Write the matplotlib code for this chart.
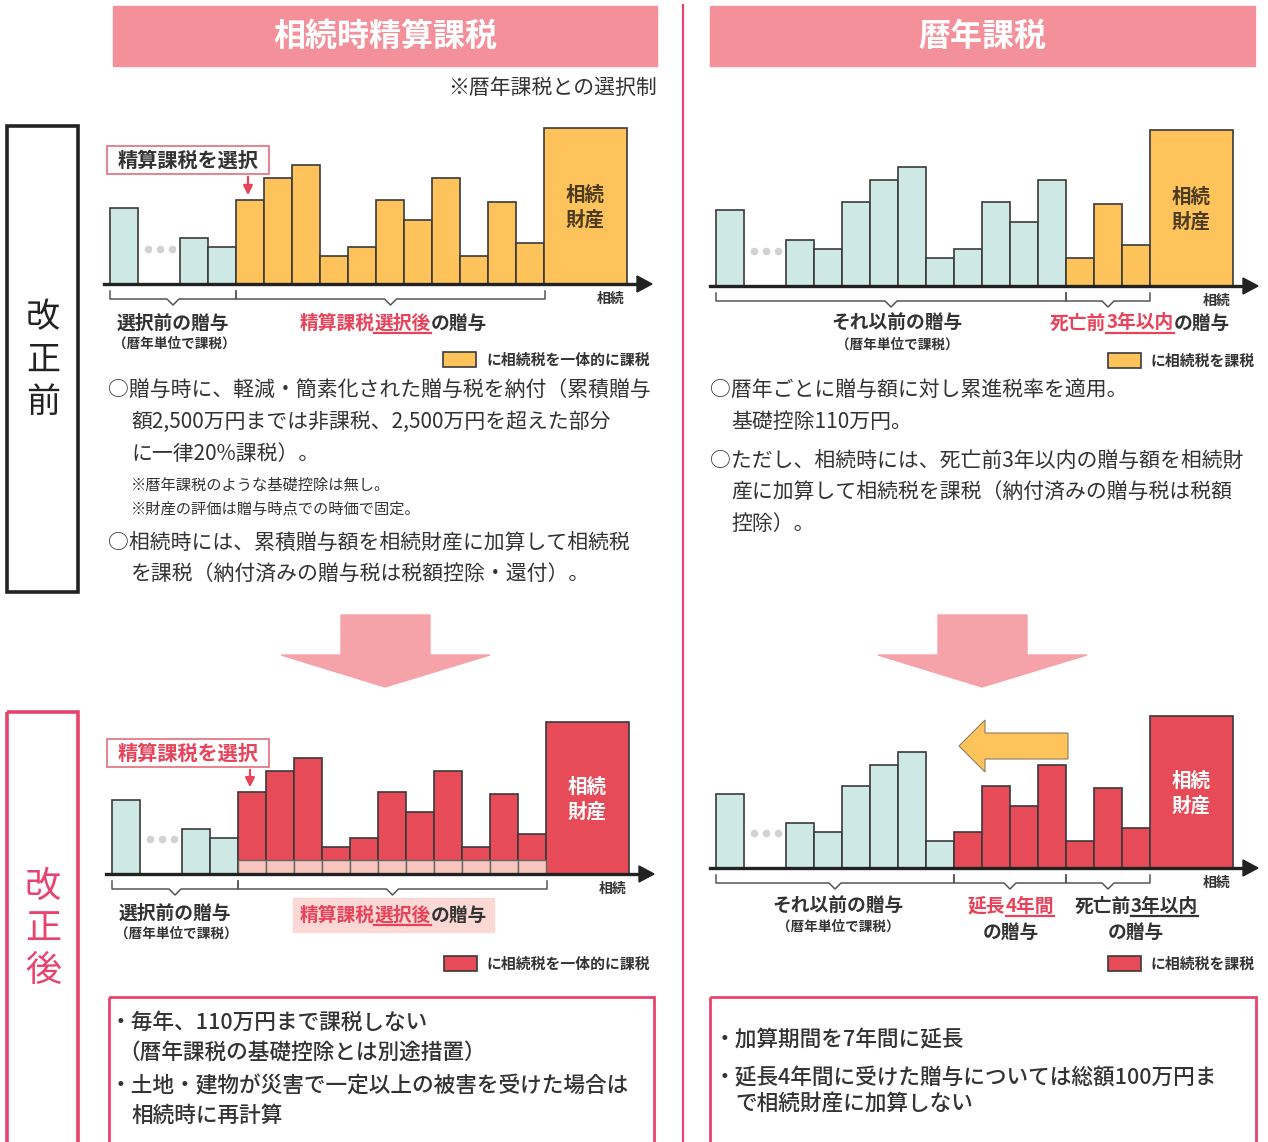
import matplotlib.pyplot as plt
import numpy as np
from matplotlib.patches import Rectangle, Polygon

plt.rcParams['font.family'] = ['Noto Sans CJK JP', 'DejaVu Sans']

# gift amounts per year (first bar, then the bars after the dots), and the estate
gifts = [76, 46, 37, 84, 106, 119, 28, 37, 84, 64, 106, 28, 82, 41]
estate = 156
basic_deduction = 14      # 110万円 strip in the revised 精算課税 chart

# which gifts are added to the estate in each panel
taxed_tl = list(range(3, 14))
taxed_tr = list(range(11, 14))
taxed_bl = list(range(3, 14))
taxed_br = list(range(7, 14))

DARK = '#333333'
RED = '#e8435a'
PINK_LINE = '#e8436e'
HEAD = '#f4909a'
ARROW = '#f5a3a8'
TEAL = '#cde8e5'
ORANGE = '#fec35b'
BARRED = '#e84b58'
STRIP = '#f8c6bf'
EDGE = '#3a3a3a'

fig = plt.figure(figsize=(12.68, 11.42), dpi=100)
ax = fig.add_axes([0, 0, 1, 1])
ax.set_xlim(0, 1268)
ax.set_ylim(1142, 0)
ax.axis('off')
renderer = fig.canvas.get_renderer()


def text_width(s, size, weight):
    t = ax.text(0, 0, s, fontsize=size, fontweight=weight)
    w = t.get_window_extent(renderer).width
    t.remove()
    return w


def rich(x, y, parts, size=13.5, weight='bold', ha='center', ul_off=10):
    # parts: (text, colour, underline colour or None)
    widths = [text_width(p[0], size, weight) for p in parts]
    start = x - sum(widths) / 2 if ha == 'center' else x
    for (s, c, u), w in zip(parts, widths):
        ax.text(start, y, s, fontsize=size, fontweight=weight, color=c,
                ha='left', va='center')
        if u:
            ax.plot([start, start + w], [y + ul_off] * 2, color=u, lw=1.6)
        start += w


def bracket(xa, xb, base):
    y = base + 15
    xc = (xa + xb) / 2
    ax.plot([xa, xa, xc - 6, xc, xc + 6, xb, xb],
            [base + 7, y, y, y + 6, y, y, base + 7], color='#555', lw=1.1)


def chart(x0, base, scale, taxed, taxcol, strip=False, estate_txt='#4a3b22'):
    w = 28
    xs = np.array([x0] + [x0 + (i + 1.5) * w for i in range(1, len(gifts))])
    h = np.array(gifts) * scale
    cols = [taxcol if i in taxed else TEAL for i in range(len(gifts))]
    ax.bar(xs, -h, bottom=base, width=w, align='edge', color=cols,
           edgecolor=EDGE, linewidth=1.2, zorder=3)
    if strip:
        idx = np.array(taxed)
        ax.bar(xs[idx], -basic_deduction, bottom=base, width=w, align='edge',
               color=STRIP, edgecolor='#666', linewidth=1.0, zorder=4)
    xe = x0 + 15.5 * w
    ax.bar([xe], [-estate * scale], bottom=base, width=2.95 * w, align='edge',
           color=taxcol, edgecolor=EDGE, linewidth=1.2, zorder=3)
    ax.text(xe + 1.475 * w, base - estate * scale * 0.49, '相続\n財産',
            fontsize=14, fontweight='bold', color=estate_txt, ha='center',
            va='center', linespacing=1.35, zorder=5)
    ax.scatter([x0 + 38, x0 + 50, x0 + 62], [base - 35] * 3, s=20,
               color='#d2d2d2', zorder=3)
    ax.plot([x0 - 6, x0 + 530], [base, base], color='#222', lw=2.4, zorder=5)
    ax.add_patch(Polygon([(x0 + 527, base - 8), (x0 + 542, base),
                          (x0 + 527, base + 8)], color='#222', zorder=5))
    ax.text(x0 + 501, base + 15, '相続', fontsize=10, fontweight='bold',
            color=DARK, ha='center', va='center')
    return xs, w


def legend(x, y, col, label):
    ax.add_patch(Rectangle((x, y), 33, 15, facecolor=col, edgecolor=EDGE, lw=1.2))
    ax.text(x + 43, y + 7.5, label, fontsize=10.7, fontweight='bold',
            color=DARK, ha='left', va='center')


def callout(x0, ytop, xs, w, base, h, tcol):
    ax.add_patch(Rectangle((x0 - 3, ytop), 162, 28, facecolor='white',
                           edgecolor='#e57a86', lw=1.3, zorder=6))
    ax.text(x0 + 78, ytop + 14, '精算課税を選択', fontsize=14.5,
            fontweight='bold', color=tcol, ha='center', va='center', zorder=7)
    xc = xs[3] + w / 2 - 2
    ax.annotate('', xy=(xc, base - h - 2), xytext=(xc, ytop + 28),
                arrowprops=dict(arrowstyle='-|>', color=RED, lw=1.6,
                                mutation_scale=14), zorder=7)


# headers and divider
ax.plot([683, 683], [5, 1142], color=PINK_LINE, lw=1.6)
ax.add_patch(Rectangle((113, 6), 544, 60, color=HEAD))
ax.add_patch(Rectangle((710, 6), 545, 60, color=HEAD))
ax.text(385, 37, '相続時精算課税', fontsize=23, fontweight='bold', color='white',
        ha='center', va='center')
ax.text(982, 37, '暦年課税', fontsize=23, fontweight='bold', color='white',
        ha='center', va='center')
ax.text(657, 88, '※暦年課税との選択制', fontsize=15, color=DARK, ha='right',
        va='center')

# side labels
ax.add_patch(Rectangle((7, 126), 71, 466, facecolor='none', edgecolor='#222', lw=2.6))
for ch, y in zip('改正前', [318, 360, 402]):
    ax.text(43, y, ch, fontsize=24.5, color='#222', ha='center', va='center')
ax.add_patch(Rectangle((7, 712), 71, 440, facecolor='none', edgecolor=PINK_LINE, lw=2.6))
for ch, y in zip('改正後', [887, 929, 971]):
    ax.text(43, y, ch, fontsize=26, color=PINK_LINE, ha='center', va='center')

# ---- top left: 相続時精算課税 (before)
xs, w = chart(110, 284, 1.0, taxed_tl, ORANGE)
callout(110, 146, xs, w, 284, gifts[3], DARK)
bracket(110, 236, 284)
bracket(236, 545, 284)
rich(173, 323, [('選択前の贈与', DARK, None)])
rich(174, 344, [('（暦年単位で課税）', DARK, None)], size=9.8)
rich(393, 323, [('精算課税', RED, None), ('選択後', RED, RED), ('の贈与', DARK, None)])
legend(443, 352, ORANGE, 'に相続税を一体的に課税')

# ---- top right: 暦年課税 (before)
xs, w = chart(716, 286, 1.0, taxed_tr, ORANGE)
bracket(716, 1066, 286)
bracket(1066, 1150, 286)
rich(897, 323, [('それ以前の贈与', DARK, None)])
rich(897, 345, [('（暦年単位で課税）', DARK, None)], size=9.8)
rich(1140, 323, [('死亡前', RED, None), ('3年以内', RED, RED), ('の贈与', DARK, None)])
legend(1108, 353, ORANGE, 'に相続税を課税')

# body text (before)
body = 15
ax.text(108, 390, '○贈与時に、軽減・簡素化された贈与税を納付（累積贈与', fontsize=body, color=DARK, va='center')
ax.text(131, 422, '額2,500万円までは非課税、2,500万円を超えた部分', fontsize=body, color=DARK, va='center')
ax.text(131, 454, 'に一律20%課税）。', fontsize=body, color=DARK, va='center')
ax.text(131, 485, '※暦年課税のような基礎控除は無し。', fontsize=11, color=DARK, va='center')
ax.text(131, 509, '※財産の評価は贈与時点での時価で固定。', fontsize=11, color=DARK, va='center')
ax.text(108, 543, '○相続時には、累積贈与額を相続財産に加算して相続税', fontsize=body, color=DARK, va='center')
ax.text(131, 575, 'を課税（納付済みの贈与税は税額控除・還付）。', fontsize=body, color=DARK, va='center')

ax.text(710, 390, '○暦年ごとに贈与額に対し累進税率を適用。', fontsize=body, color=DARK, va='center')
ax.text(731, 422, '基礎控除110万円。', fontsize=body, color=DARK, va='center')
ax.text(710, 461, '○ただし、相続時には、死亡前3年以内の贈与額を相続財', fontsize=body, color=DARK, va='center')
ax.text(731, 492, '産に加算して相続税を課税（納付済みの贈与税は税額', fontsize=body, color=DARK, va='center')
ax.text(731, 524, '控除）。', fontsize=body, color=DARK, va='center')

# down arrows
for cx in (385, 982):
    ax.add_patch(Polygon([(cx - 44, 615), (cx + 45, 615), (cx + 45, 655),
                          (cx + 105, 655), (cx, 687), (cx - 104, 655),
                          (cx - 44, 655)], color=ARROW))

# ---- bottom left: 相続時精算課税 (after)
xs, w = chart(112, 874, 0.975, taxed_bl, BARRED, strip=True, estate_txt='white')
callout(110, 739, xs, w, 874, gifts[3] * 0.975, RED)
bracket(112, 238, 874)
bracket(238, 547, 874)
rich(175, 913, [('選択前の贈与', DARK, None)])
rich(176, 934, [('（暦年単位で課税）', DARK, None)], size=9.8)
ax.add_patch(Rectangle((293, 898), 201, 34, color='#fbd8d4', zorder=1))
rich(393, 915, [('精算課税', RED, None), ('選択後', RED, RED), ('の贈与', DARK, None)])
legend(444, 956, BARRED, 'に相続税を一体的に課税')

# ---- bottom right: 暦年課税 (after)
xs, w = chart(716, 868, 0.975, taxed_br, BARRED, estate_txt='white')
ax.add_patch(Polygon([(1068, 733), (985, 733), (985, 720), (959, 746),
                      (985, 772), (985, 759), (1068, 759)],
                     facecolor=ORANGE, edgecolor='#8a7a60', lw=0.8, zorder=6))
bracket(716, 954, 868)
bracket(954, 1066, 868)
bracket(1066, 1150, 868)
rich(838, 906, [('それ以前の贈与', DARK, None)])
rich(838, 927, [('（暦年単位で課税）', DARK, None)], size=9.8)
rich(1011, 906, [('延長', RED, None), ('4年間', RED, RED)])
rich(1011, 932, [('の贈与', DARK, None)])
rich(1136, 906, [('死亡前', DARK, None), ('3年以内', DARK, DARK)])
rich(1136, 932, [('の贈与', DARK, None)])
legend(1108, 956, BARRED, 'に相続税を課税')

# bottom boxes
ax.add_patch(Rectangle((109, 997), 545, 160, facecolor='none', edgecolor=PINK_LINE, lw=2))
ax.add_patch(Rectangle((710, 997), 546, 160, facecolor='none', edgecolor=PINK_LINE, lw=2))
bt = 15.6
ax.text(110, 1023, '・毎年、110万円まで課税しない', fontsize=bt, color=DARK, va='center', fontweight='medium')
ax.text(118, 1053, '（暦年課税の基礎控除とは別途措置）', fontsize=bt, color=DARK, va='center', fontweight='medium')
ax.text(110, 1086, '・土地・建物が災害で一定以上の被害を受けた場合は', fontsize=bt, color=DARK, va='center', fontweight='medium')
ax.text(131, 1116, '相続時に再計算', fontsize=bt, color=DARK, va='center', fontweight='medium')
ax.text(714, 1040, '・加算期間を7年間に延長', fontsize=bt, color=DARK, va='center', fontweight='medium')
ax.text(714, 1078, '・延長4年間に受けた贈与については総額100万円ま', fontsize=bt, color=DARK, va='center', fontweight='medium')
ax.text(735, 1105, 'で相続財産に加算しない', fontsize=bt, color=DARK, va='center', fontweight='medium')

fig.savefig('out.png', dpi=100)
